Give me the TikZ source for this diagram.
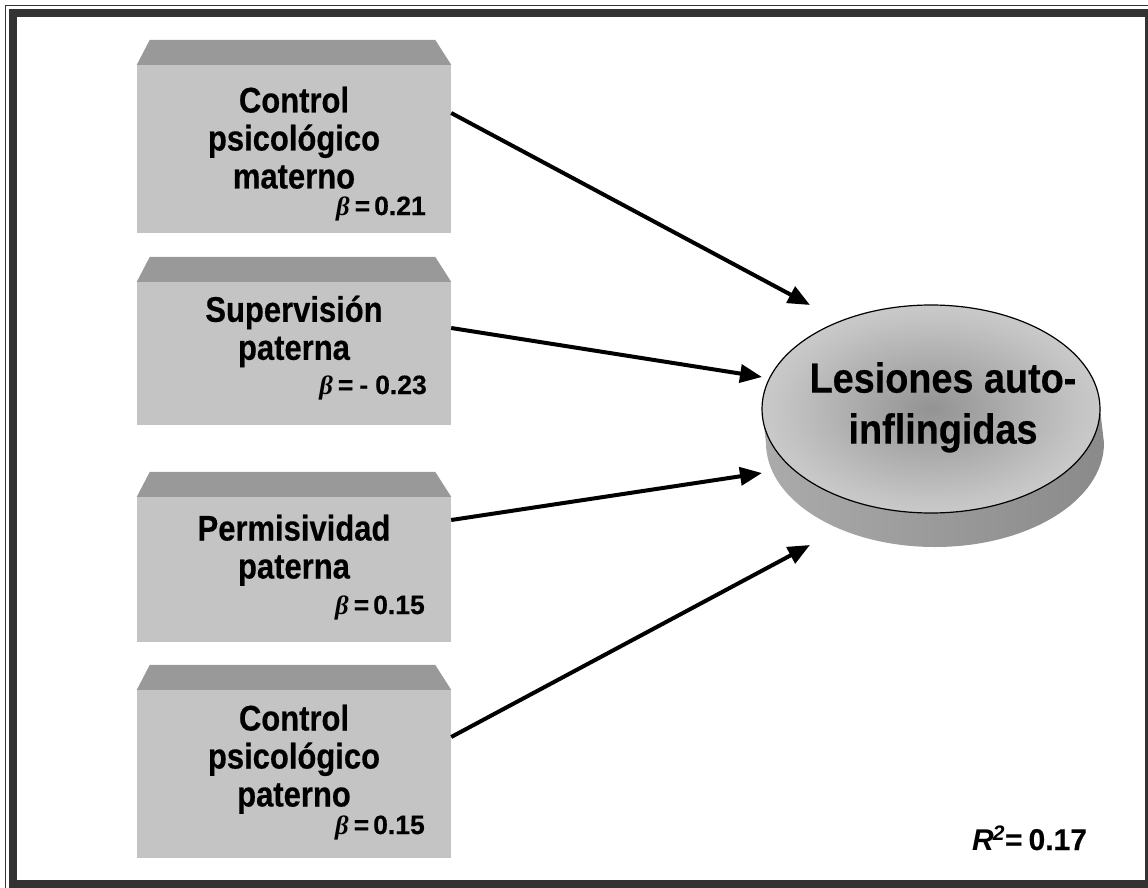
\documentclass[tikz,border=0pt]{standalone}
\usepackage{fontspec}
\setmainfont{Liberation Sans}[BoldFeatures={FakeBold=0.4}]
\newfontfamily\boxfont{Liberation Sans}[FakeStretch=0.87, BoldFeatures={FakeBold=0.4}]
\newfontfamily\discfont{Liberation Sans}[FakeStretch=0.9, BoldFeatures={FakeBold=0.4}]
\newfontfamily\grk{Liberation Serif}[BoldFeatures={FakeBold=0.4}]
\usetikzlibrary{shapes.geometric,arrows.meta,calc}
\definecolor{framec}{HTML}{333333}
\definecolor{boxfront}{HTML}{C4C4C4}
\definecolor{boxtop}{HTML}{999999}
\definecolor{discin}{HTML}{939393}
\definecolor{discmid}{HTML}{C4C4C4}
\definecolor{discout}{HTML}{E0E0E0}
\definecolor{sideL}{HTML}{ABABAB}
\definecolor{sideM}{HTML}{7E7E7E}
\definecolor{sideR}{HTML}{8A8A8A}
\pgfdeclareradialshading{disc}{\pgfpoint{0bp}{0bp}}{color(0bp)=(discin); color(22bp)=(discmid); color(38bp)=(discout); color(50bp)=(discout)}
\begin{document}
\begin{tikzpicture}[x=1pt,y=-1pt,
  frontbox/.style={rectangle, fill=boxfront, draw=none, minimum width=314pt, inner sep=0pt},
  topface/.style={fill=boxtop},
  lbl/.style={font=\boxfont\fontsize{35.6}{38}\selectfont\bfseries, align=center, inner sep=0pt, anchor=north},
  coef/.style={font=\fontsize{26.5}{30}\selectfont\bfseries, inner sep=0pt, anchor=base east},
  arr/.style={line width=4pt, -{Triangle[length=22pt,width=18pt]}}]
\useasboundingbox (0,0) rectangle (1148,888);
\clip (0,0) rectangle (1148,888);
\fill[white] (0,0) rectangle (1148,888);
% frame
\draw[framec, line width=1.5pt] (5.5,5.5) rectangle (1200,950);
\draw[framec, line width=8pt] (13,13.5) rectangle (1149,884);
% boxes
\node[frontbox, minimum height=168pt] (b1) at (294,149) {};
\node[frontbox, minimum height=143pt] (b2) at (294,353.5) {};
\node[frontbox, minimum height=145pt] (b3) at (294,569.5) {};
\node[frontbox, minimum height=168pt] (b4) at (294,774) {};
\foreach \b in {b1,b2,b3,b4}{
  \fill[topface] (\b.north west) -- ([xshift=13pt,yshift=25pt]\b.north west)
     -- ([xshift=-16pt,yshift=25pt]\b.north east) -- (\b.north east) -- cycle;
}
\node[lbl] (l1) at (294,86.5) {Control\\psicológico\\materno};
\node[lbl] (l2) at (294,295.5) {Supervisión\\paterna};
\node[lbl] (l3) at (294,514.5) {Permisividad\\paterna};
\node[lbl] (l4) at (294,704.5) {Control\\psicológico\\paterno};
\node[coef] (c1) at (426,215) {{\grk\itshape β}\hspace{5pt}=\hspace{4pt}0.21};
\node[coef] (c2) at (427,394) {{\grk\itshape β}\hspace{5pt}=\hspace{6pt}-\hspace{7pt}0.23};
\node[coef] (c3) at (425,614) {{\grk\itshape β}\hspace{5pt}=\hspace{4pt}0.15};
\node[coef] (c4) at (425,834) {{\grk\itshape β}\hspace{5pt}=\hspace{4pt}0.15};
% disc side
\shade[left color=sideL, middle color=sideM, right color=sideR]
  (766,443) arc[start angle=180, end angle=360, x radius=169pt, y radius=104pt]
  -- (1100,409) arc[start angle=0, end angle=-180, x radius=169pt, y radius=104pt] -- cycle;
% disc top
\node[ellipse, draw=black, line width=1.2pt, shade, shading=disc, minimum width=338pt, minimum height=208pt, inner sep=0pt] (les) at (931,409) {};
\node[font=\discfont\fontsize{42}{51}\selectfont\bfseries, align=center, inner sep=0pt, anchor=north] (lt) at (943,362) {Lesiones auto-\\inflingidas};
% arrows
\coordinate (t1) at (810,305);
\coordinate (t2) at (762,377);
\coordinate (t3) at (762,473);
\coordinate (t4) at (810,545);
\draw[arr] ([yshift=36pt]b1.east) -- (t1);
\draw[arr] ([yshift=25.5pt]b2.east) -- (t2);
\draw[arr] ([yshift=49.5pt]b3.east) -- (t3);
\draw[arr] ([yshift=37pt]b4.east) -- (t4);
% R2
\node[anchor=base west, font=\fontsize{30}{36}\selectfont\bfseries, inner sep=0pt] (r2) at (972,850) {\textit{R}\hspace{-1pt}\textsuperscript{\textit{2}}=\hspace{6pt}0.17};
\end{tikzpicture}
\end{document}
